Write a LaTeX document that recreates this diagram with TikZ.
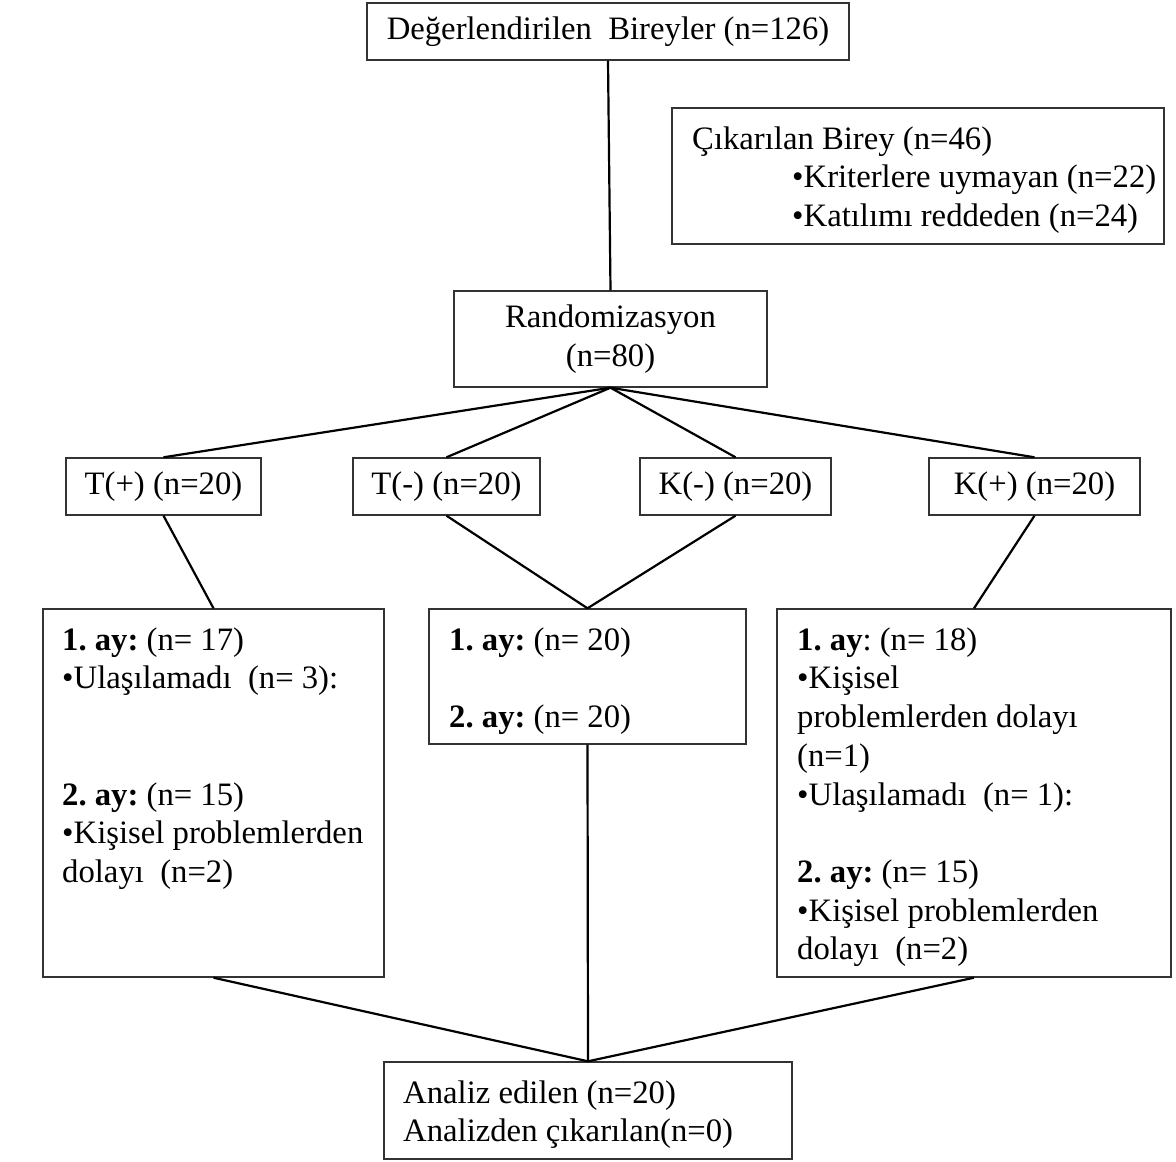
\documentclass[tikz,border=0pt]{standalone}
\usepackage{fontspec}
\setmainfont{Liberation Serif}
\frenchspacing
\begin{document}
\begin{tikzpicture}[x=1pt,y=-1pt,
  box/.style={draw=black!80, line width=1.4pt, rectangle, inner sep=0pt, fill=white},
  txt/.style={inner sep=0pt, anchor=north west, align=left, font=\fontsize{32.7}{38.7}\selectfont},
  ctxt/.style={box, align=center, font=\fontsize{32.7}{38.7}\selectfont},
  conn/.style={draw=black, line width=2.2pt}]
\useasboundingbox (0,0) rectangle (1176,1162);

% boxes
\node[ctxt, minimum width=482pt, minimum height=57pt] (top) at (608,31.5) {Değerlendirilen\ \ Bireyler (n=126)};
\node[box, minimum width=492pt, minimum height=136pt] (excl) at (918,176) {};
\node[ctxt, minimum width=313pt, minimum height=96pt] (rand) at (610.5,339) {Randomizasyon\\(n=80)};
\node[ctxt, minimum width=195pt, minimum height=57pt] (tp) at (163.5,486.5) {T(+) (n=20)};
\node[ctxt, minimum width=187pt, minimum height=57pt] (tm) at (446.5,486.5) {T(-) (n=20)};
\node[ctxt, minimum width=191pt, minimum height=57pt] (km) at (735.5,486.5) {K(-) (n=20)};
\node[ctxt, minimum width=211pt, minimum height=57pt] (kp) at (1034.5,486.5) {K(+) (n=20)};
\node[box, minimum width=341pt, minimum height=368pt] (lbox) at (213.5,793) {};
\node[box, minimum width=317pt, minimum height=135pt] (mbox) at (587.5,676.5) {};
\node[box, minimum width=394pt, minimum height=368pt] (rbox) at (974,793) {};
\node[box, minimum width=408pt, minimum height=97pt] (anal) at (588,1110.5) {};

% texts
\node[txt] (excltxt) at (692,121.9) {\strut Çıkarılan Birey (n=46)\\
  \hspace*{100pt}•Kriterlere uymayan (n=22)\\
  \hspace*{100pt}•Katılımı reddeden (n=24)};
\node[txt] (ltxt) at (62,622.9) {\strut\textbf{1. ay:} (n= 17)\\
  •Ulaşılamadı\ \ (n= 3):\\
  \strut\\
  \strut\\
  \textbf{2. ay:} (n= 15)\\
  •Kişisel problemlerden\\
  dolayı\ \ (n=2)};
\node[txt] (mtxt) at (449,622.9) {\strut\textbf{1. ay:} (n= 20)\\
  \strut\\
  \textbf{2. ay:} (n= 20)};
\node[txt] (rtxt) at (797,622.9) {\strut\textbf{1. ay}: (n= 18)\\
  •Kişisel\\
  problemlerden dolayı\\
  (n=1)\\
  •Ulaşılamadı\ \ (n= 1):\\
  \strut\\
  \textbf{2. ay:} (n= 15)\\
  •Kişisel problemlerden\\
  dolayı\ \ (n=2)};
\node[txt] (atxt) at (403,1075.9) {\strut Analiz edilen (n=20)\\
  Analizden çıkarılan(n=0)};

% connectors
\draw[conn] (top.south) -- (rand.north);
\draw[conn] (rand.south) -- (tp.north);
\draw[conn] (rand.south) -- (tm.north);
\draw[conn] (rand.south) -- (km.north);
\draw[conn] (rand.south) -- (kp.north);
\draw[conn] (tp.south) -- (lbox.north);
\draw[conn] (tm.south) -- (mbox.north);
\draw[conn] (km.south) -- (mbox.north);
\draw[conn] (kp.south) -- (rbox.north);
\draw[conn] (mbox.south) -- (anal.north);
\draw[conn] (lbox.south) -- (anal.north);
\draw[conn] (rbox.south) -- (anal.north);
\end{tikzpicture}
\end{document}
